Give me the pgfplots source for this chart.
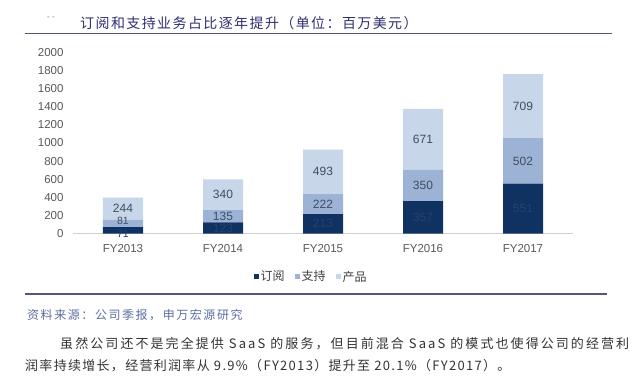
\documentclass[border=0pt]{standalone}
\usepackage{fontspec}
\setmainfont{Liberation Sans}
\newfontfamily\cjk{Noto Sans CJK SC}
\newfontfamily\cjkT[LetterSpace=10]{Noto Sans CJK SC}
\newfontfamily\cjkS[LetterSpace=13]{Noto Sans CJK SC}
\newfontfamily\cjkPa[LetterSpace=16]{Noto Sans CJK SC}
\newfontfamily\cjkPb[LetterSpace=10]{Noto Sans CJK SC}
\usepackage{pgfplots}
\pgfplotsset{compat=1.18}
\definecolor{c1}{HTML}{0F3262}
\definecolor{c2}{HTML}{9DB3D5}
\definecolor{c3}{HTML}{C8D6EA}
\definecolor{titlec}{HTML}{2E2F6F}
\definecolor{rulec}{HTML}{55557A}
\definecolor{srcc}{HTML}{5B6FA0}
\definecolor{parac}{HTML}{333333}
\definecolor{tickc}{HTML}{595959}
\definecolor{labc}{HTML}{3F4D63}
\definecolor{dlabc}{HTML}{24426F}
\definecolor{axisc}{HTML}{D0D0D0}
\definecolor{legc}{HTML}{404040}
\begin{document}
\begin{tikzpicture}[x=1pt,y=1pt]
\useasboundingbox (0,0) rectangle (640,384);
\fill[white] (0,0) rectangle (640,384);
\node[anchor=west, text=titlec, inner sep=0] at (80,361) {\cjkT\fontsize{14}{16}\selectfont 订阅和支持业务占比逐年提升（单位：百万美元）};
\node[anchor=west, text=gray, inner sep=0] at (47,366) {\fontsize{8}{8}\selectfont - -};
\draw[rulec, line width=1.3pt] (25,350.7) -- (612,350.7);
\begin{axis}[
  at={(73pt,150.5pt)}, anchor=south west, scale only axis,
  width=500pt, height=181pt,
  ymin=0, ymax=2000, xmin=-0.5, xmax=4.5,
  ybar stacked, bar width=40pt,
  axis x line=bottom, axis y line=left,
  axis line style={-},
  x axis line style={draw=axisc, line width=0.8pt},
  y axis line style={draw=none},
  xtick={0,1,2,3,4}, xticklabels={FY2013,FY2014,FY2015,FY2016,FY2017},
  ytick={0,200,...,2000},
  major tick length=0pt,
  /pgf/number format/assume math mode=true,
  /pgf/number format/1000 sep={},
  scaled y ticks=false,
  tick label style={font=\fontsize{11.5}{12}\selectfont, text=tickc},
  yticklabel style={xshift=-6pt},
  xticklabel style={yshift=-7pt},
  legend style={at={(0.476,-0.2387)}, anchor=center, draw=none, fill=none,
    font=\cjk\fontsize{12}{14}\selectfont, text=legc,
    /tikz/every even column/.append style={column sep=8pt}},
  legend columns=3,
  legend image code/.code={\fill[#1] (0pt,-2.5pt) rectangle (5pt,2.5pt);},
]
\addplot[fill=c1, draw=none] coordinates {(0,71) (1,123) (2,213) (3,357) (4,551)};
\addplot[fill=c2, draw=none] coordinates {(0,81) (1,135) (2,222) (3,350) (4,502)};
\addplot[fill=c3, draw=none] coordinates {(0,244) (1,340) (2,493) (3,671) (4,709)};
\legend{订阅,支持,产品}
\end{axis}
\begin{axis}[
  at={(73pt,150.5pt)}, anchor=south west, scale only axis,
  width=500pt, height=181pt,
  ymin=0, ymax=2000, xmin=-0.5, xmax=4.5,
  hide axis, clip=false,
  every node near coord/.append style={anchor=center, inner sep=0.5pt, font=\fontsize{12}{13}\selectfont},
]
\addplot[draw=none, mark=none, nodes near coords, point meta=explicit symbolic,
  every node near coord/.append style={text=dlabc, font=\fontsize{10.5}{11}\selectfont}]
  coordinates {(0,-8)[71]};
\addplot[draw=none, mark=none, nodes near coords, point meta=explicit symbolic,
  every node near coord/.append style={text=labc, font=\fontsize{10.5}{11}\selectfont}]
  coordinates {(0,135)[81]};
\addplot[draw=none, mark=none, nodes near coords, point meta=explicit symbolic,
  every node near coord/.append style={text=dlabc}]
  coordinates {(1,61.5)[123] (2,106.5)[213] (3,178.5)[357] (4,275.5)[551]};
\addplot[draw=none, mark=none, nodes near coords, point meta=explicit symbolic,
  every node near coord/.append style={text=labc}]
  coordinates {(1,190.5)[135] (2,324)[222] (3,532)[350] (4,802)[502]};
\addplot[draw=none, mark=none, nodes near coords, point meta=explicit symbolic,
  every node near coord/.append style={text=labc}]
  coordinates {(0,274)[244] (1,428)[340] (2,681.5)[493] (3,1042.5)[671] (4,1407.5)[709]};
\end{axis}
\draw[rulec, line width=1.3pt] (25,90) -- (607,90);
\node[anchor=west, inner sep=0, text=srcc] at (27,69) {\cjkS\fontsize{12}{14}\selectfont 资料来源：公司季报，申万宏源研究};
\node[anchor=west, inner sep=0, text=parac] at (60,40) {\cjkPa\fontsize{13}{15}\selectfont 虽然公司还不是完全提供 SaaS 的服务，但目前混合 SaaS 的模式也使得公司的经营利};
\node[anchor=west, inner sep=0, text=parac] at (25,18) {\cjkPb\fontsize{13}{15}\selectfont 润率持续增长，经营利润率从 9.9\%（FY2013）提升至 20.1\%（FY2017）。};
\end{tikzpicture}
\end{document}
